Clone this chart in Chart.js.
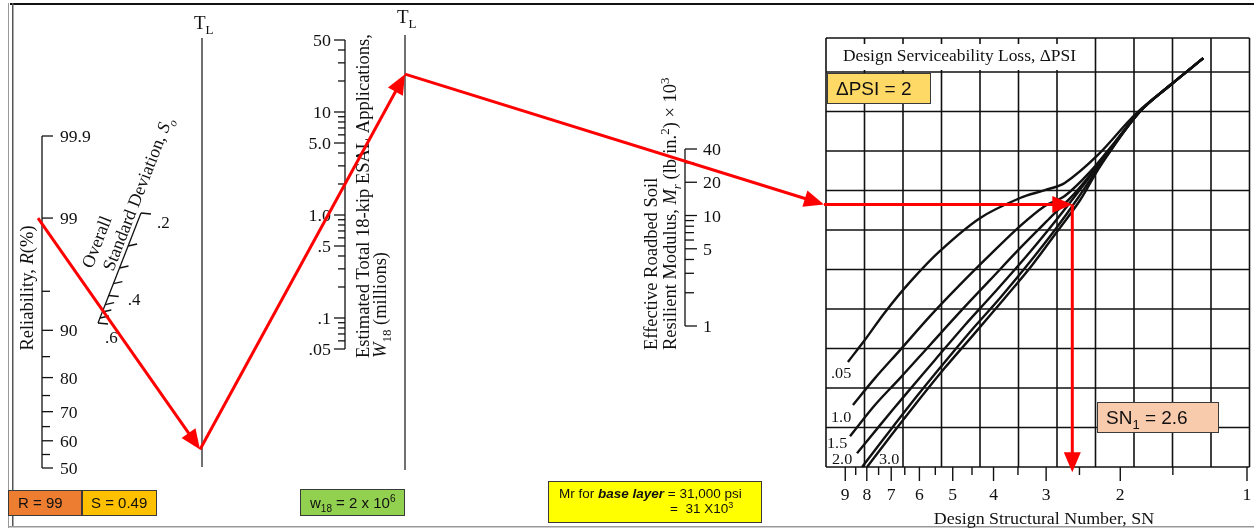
<!DOCTYPE html>
<html><head><meta charset="utf-8">
<script src="https://cdn.jsdelivr.net/npm/chart.js@4.4.1/dist/chart.umd.min.js"></script>
<style>
html,body{margin:0;padding:0;background:#fff;overflow:hidden;}
#wrap{position:relative;width:1254px;height:531px;}
</style></head>
<body><div id="wrap"><canvas id="chart"></canvas></div>
<script>
// ================= DATA =================
const reliabilityTicks = [50, 60, 70, 80, 90, 99, 99.9];
const reliabilityTickLabels = ['50', '60', '70', '80', '90', '99', '99.9'];
const reliabilityMinorTicks = [55, 65, 75, 85, 95];
const stdDevTicks = [0.2, 0.25, 0.3, 0.35, 0.4, 0.45, 0.5, 0.55, 0.6];
const stdDevLabelValues = [0.2, 0.4, 0.6];
const stdDevTickLabels = ['.2', '.4', '.6'];
const esalTicks = [0.05, 0.06, 0.07, 0.08, 0.09, 0.1, 0.2, 0.3, 0.4, 0.5, 0.6, 0.7, 0.8, 0.9,
                   1, 2, 3, 4, 5, 6, 7, 8, 9, 10, 20, 30, 40, 50];
const esalLabelValues = [0.05, 0.1, 0.5, 1, 5, 10, 50];
const esalTickLabels = ['.05', '.1', '.5', '1.0', '5.0', '10', '50'];
const mrTicks = [1, 2, 3, 4, 5, 6, 7, 8, 9, 10, 20, 30, 40];
const mrLabelValues = [1, 5, 10, 20, 40];
const mrTickLabels = ['1', '5', '10', '20', '40'];
const snTicks = [9, 8, 7, 6, 5, 4, 3, 2, 1];
const snTickLabels = ['9', '8', '7', '6', '5', '4', '3', '2', '1'];
const snMinorTicks = [8.5, 7.5, 6.5, 5.5, 4.5, 3.5, 2.5, 1.5];
const psiCurveNames = ['.05', '1.0', '1.5', '2.0', '2.5', '3.0'];
const psiCurveLabels = ['.05', '1.0', '1.5', '2.0', '', '3.0'];
// Serviceability-loss curves: design SN (x) against turning-line grid position (rows)
const psi005SN  = [8.87, 8.08, 7.24, 6.32, 5.36, 4.31, 3.46, 3.02, 2.71, 2.26, 1.83, 1.52, 1.27];
const psi005Row = [2.66, 3.22, 3.92, 4.68, 5.47, 6.30, 6.81, 7.01, 7.19, 7.90, 8.96, 9.67, 10.35];
const psi10SN   = [8.63, 7.65, 6.67, 5.66, 4.81, 4.08, 3.46, 3.02, 2.71, 2.36, 2.06, 1.80, 1.52, 1.27];
const psi10Row  = [1.57, 2.25, 2.96, 3.82, 4.61, 5.37, 6.10, 6.61, 6.86, 7.47, 8.23, 8.99, 9.67, 10.35];
const psi15SN   = [8.77, 7.65, 6.67, 5.66, 4.81, 4.08, 3.46, 2.94, 2.56, 2.23, 1.80, 1.52, 1.27];
const psi15Row  = [0.78, 1.57, 2.25, 3.09, 3.92, 4.73, 5.54, 6.30, 6.94, 7.72, 8.99, 9.67, 10.35];
const psi20SN   = [8.44, 7.44, 6.49, 5.51, 4.68, 3.97, 3.37, 2.94, 2.56, 2.23, 1.80, 1.52, 1.27];
const psi20Row  = [0.35, 1.06, 1.82, 2.71, 3.59, 4.43, 5.29, 6.05, 6.86, 7.70, 8.99, 9.67, 10.35];
const psi25SN   = [8.21, 7.24, 6.32, 5.36, 4.55, 3.86, 3.28, 2.86, 2.52, 2.23, 1.80, 1.52, 1.27];
const psi25Row  = [0.00, 0.76, 1.57, 2.51, 3.42, 4.28, 5.19, 6.00, 6.81, 7.65, 8.99, 9.67, 10.35];
const psi30SN   = [7.99, 7.05, 6.15, 5.22, 4.43, 3.76, 3.24, 2.83, 2.49, 2.23, 1.80, 1.52, 1.27];
const psi30Row  = [0.00, 0.76, 1.57, 2.51, 3.39, 4.28, 5.11, 5.95, 6.76, 7.62, 8.99, 9.67, 10.35];
// design example
const designR = 99, designSo = 0.49, designW18 = 2, designMr = 31, designSN = 2.6, designPSI = 2;

// ================= HELPERS =================
const W = 1254, H = 531;
const SERIF = '"Liberation Serif","DejaVu Serif",serif';
const SANS = '"Liberation Sans",Arial,sans-serif';

function probit(p) {
  const a=[-3.969683028665376e+01,2.209460984245205e+02,-2.759285104469687e+02,1.383577518672690e+02,-3.066479806614716e+01,2.506628277459239e+00];
  const b=[-5.447609879822406e+01,1.615858368580409e+02,-1.556989798598866e+02,6.680131188771972e+01,-1.328068155288572e+01];
  const c=[-7.784894002430293e-03,-3.223964580411365e-01,-2.400758277161838e+00,-2.549732539343734e+00,4.374664141464968e+00,2.938163982698783e+00];
  const d=[7.784695709041462e-03,3.224671290700398e-01,2.445134137142996e+00,3.754408661907416e+00];
  const pl = 0.02425; let q, r;
  if (p < pl) { q = Math.sqrt(-2*Math.log(p)); return (((((c[0]*q+c[1])*q+c[2])*q+c[3])*q+c[4])*q+c[5])/((((d[0]*q+d[1])*q+d[2])*q+d[3])*q+1); }
  if (p <= 1-pl) { q = p-0.5; r = q*q; return (((((a[0]*r+a[1])*r+a[2])*r+a[3])*r+a[4])*r+a[5])*q/(((((b[0]*r+b[1])*r+b[2])*r+b[3])*r+b[4])*r+1); }
  q = Math.sqrt(-2*Math.log(1-p)); return -(((((c[0]*q+c[1])*q+c[2])*q+c[3])*q+c[4])*q+c[5])/((((d[0]*q+d[1])*q+d[2])*q+d[3])*q+1);
}
// scale limits such that value v1 sits at pixel p1 and v2 at p2 (y axes & reversed x axes)
function yFit(v1, p1, v2, p2, size) { const k = (p1-p2)/(v2-v1); return { min: v1-(size-p1)/k, max: v1+p1/k }; }
function xFit(v1, p1, v2, p2, size) { const k = (p2-p1)/(v2-v1); return { min: v1-p1/k, max: v1+(size-p1)/k }; }
function logFit(v1, p1, v2, p2, size) { const r = yFit(Math.log10(v1), p1, Math.log10(v2), p2, size); return { min: 10**r.min, max: 10**r.max }; }

// layout anchors
const LAY = {
  rAxisX: 42, rStartX: 38, tl1X: 202, tl2X: 405, esalX: 345, mrX: 685,
  soTop: [141, 213], soBottom: [98, 323],
  gridLeft: 826, gridRight: 1249.5, gridTop: 38, gridBottom: 467,
  redTL1X: 200, redGridX: 824
};

function rich(ctx, x, y, parts, size, family, align, stretch) {
  stretch = stretch || 1;
  const fonts = parts.map(p => `${p.i ? 'italic ' : ''}${p.b ? 'bold ' : ''}${(p.sub || p.sup) ? Math.round(size*0.68) : size}px ${family}`);
  let total = 0;
  const ws = parts.map((p, k) => { ctx.font = fonts[k]; const w = ctx.measureText(p.t).width; total += w; return w; });
  ctx.save();
  ctx.translate(x, y); ctx.scale(stretch, 1);
  let cx = align === 'center' ? -total/2 : align === 'right' ? -total : 0;
  ctx.textAlign = 'left'; ctx.textBaseline = 'alphabetic';
  parts.forEach((p, k) => {
    ctx.font = fonts[k];
    const dy = p.sub ? size*0.28 : p.sup ? -size*0.38 : 0;
    ctx.fillText(p.t, cx, dy); cx += ws[k];
  });
  ctx.restore();
}
function rotText(ctx, x, y, ang, parts, size, family, align) {
  ctx.save(); ctx.translate(x, y); ctx.rotate(ang); rich(ctx, 0, 0, parts, size, family, align); ctx.restore();
}
function line(ctx, x1, y1, x2, y2) { ctx.beginPath(); ctx.moveTo(x1, y1); ctx.lineTo(x2, y2); ctx.stroke(); }
function arrowHead(ctx, x0, y0, x1, y1, len, hw) {
  const a = Math.atan2(y1-y0, x1-x0), ca = Math.cos(a), sa = Math.sin(a);
  ctx.beginPath(); ctx.moveTo(x1, y1);
  ctx.lineTo(x1-len*ca+hw*sa, y1-len*sa-hw*ca);
  ctx.lineTo(x1-len*ca-hw*sa, y1-len*sa+hw*ca);
  ctx.closePath(); ctx.fill();
}
function box(ctx, x1, y1, x2, y2, fill) {
  ctx.fillStyle = fill; ctx.fillRect(x1, y1, x2-x1, y2-y1);
  ctx.strokeStyle = '#3a3a3a'; ctx.lineWidth = 1; ctx.strokeRect(x1+0.5, y1+0.5, x2-x1-1, y2-y1-1);
}

// ================= DRAWING PLUGIN =================
const nomograph = {
  id: 'nomograph',
  beforeDatasetsDraw(chart) {
    const ctx = chart.ctx, s = chart.scales;
    ctx.save();
    // frame
    ctx.fillStyle = '#111'; ctx.fillRect(10, 3, W-10, 2);
    ctx.fillStyle = '#555'; ctx.fillRect(12, 3, 1.5, 524);
    ctx.fillStyle = '#999'; ctx.fillRect(8, 3, 1, 525); ctx.fillRect(8, 526, W-8, 1.5);

    ctx.strokeStyle = '#111'; ctx.fillStyle = '#111'; ctx.lineWidth = 1.3;
    // ---- Reliability axis ----
    const yR = v => s.zR.getPixelForValue(probit(v/100));
    const rx = LAY.rAxisX;
    line(ctx, rx, yR(reliabilityTicks[reliabilityTicks.length-1]), rx, yR(reliabilityTicks[0]));
    reliabilityTicks.forEach((v, i) => {
      line(ctx, rx, yR(v), rx+11, yR(v));
      rich(ctx, 60, yR(v)+6, [{t: reliabilityTickLabels[i]}], 16, SERIF, 'left', 1.1);
    });
    reliabilityMinorTicks.forEach(v => line(ctx, rx, yR(v), rx+8, yR(v)));
    rotText(ctx, 33, 288, -Math.PI/2, [{t: 'Reliability, '}, {t: 'R', i: true}, {t: '(%)'}], 18.5, SERIF, 'center');

    // ---- Overall standard deviation (So) axis ----
    const [tx, ty] = LAY.soTop, [bx, by] = LAY.soBottom;
    const soF = v => (1/stdDevTicks[0] - 1/v) / (1/stdDevTicks[0] - 1/stdDevTicks[stdDevTicks.length-1]);
    const soP = v => [tx + (bx-tx)*soF(v), ty + (by-ty)*soF(v)];
    line(ctx, tx, ty, bx, by);
    stdDevTicks.forEach(v => { const [px, py] = soP(v); const major = stdDevLabelValues.includes(v); line(ctx, px, py, px + (major ? 10 : 9), py + (major ? 1 : -2)); });
    const soLabOff = [[16, 15], [19, 9], [7, 20]];
    stdDevLabelValues.forEach((v, i) => { const [px, py] = soP(v); rich(ctx, px + soLabOff[i][0], py + soLabOff[i][1], [{t: stdDevTickLabels[i]}], 17, SERIF, 'left'); });
    const soAng = Math.atan2(ty-by, tx-bx);
    rotText(ctx, 102, 244, soAng, [{t: 'Overall'}], 18, SERIF, 'center');
    rotText(ctx, 143, 196, soAng, [{t: 'Standard Deviation, '}, {t: 'S', i: true}, {t: 'o', i: true, sub: true}], 18, SERIF, 'center');

    // ---- Turning lines ----
    ctx.lineWidth = 1.2;
    line(ctx, LAY.tl1X, 38, LAY.tl1X, 467);
    line(ctx, LAY.tl2X, 35, LAY.tl2X, 470);
    rich(ctx, LAY.tl1X-8, 29, [{t: 'T'}, {t: 'L', sub: true}], 19, SERIF, 'left');
    rich(ctx, LAY.tl2X-8, 23, [{t: 'T'}, {t: 'L', sub: true}], 19, SERIF, 'left');

    // ---- ESAL axis ----
    ctx.lineWidth = 1.3;
    const yW = v => s.esal.getPixelForValue(v);
    const ex = LAY.esalX;
    line(ctx, ex, yW(esalTicks[esalTicks.length-1]), ex, yW(esalTicks[0]));
    esalTicks.forEach(v => { const major = esalLabelValues.includes(v); line(ctx, ex, yW(v), ex - (major ? 11 : 7), yW(v)); });
    esalLabelValues.forEach((v, i) => rich(ctx, 331, yW(v)+6, [{t: esalTickLabels[i]}], 16, SERIF, 'right', 1.12));
    rotText(ctx, 369, 358, -Math.PI/2, [{t: 'Estimated Total 18-kip ESAL Applications,'}], 18.5, SERIF, 'left');
    rotText(ctx, 386, 358, -Math.PI/2, [{t: 'W', i: true}, {t: '18', sub: true}, {t: ' (millions)'}], 18.5, SERIF, 'left');

    // ---- Resilient modulus axis ----
    const yM = v => s.mr.getPixelForValue(v);
    const mx = LAY.mrX;
    line(ctx, mx, yM(mrTicks[mrTicks.length-1]), mx, yM(mrTicks[0]));
    mrTicks.forEach(v => { const major = mrLabelValues.includes(v); line(ctx, mx, yM(v), mx + (major ? 12 : 9), yM(v)); });
    mrLabelValues.forEach((v, i) => rich(ctx, 703, yM(v)+6, [{t: mrTickLabels[i]}], 16, SERIF, 'left', 1.12));
    rotText(ctx, 657, 350, -Math.PI/2, [{t: 'Effective Roadbed Soil'}], 18.5, SERIF, 'left');
    rotText(ctx, 676, 350, -Math.PI/2, [{t: 'Resilient Modulus, '}, {t: 'M', i: true}, {t: 'r', i: true, sub: true}, {t: ' (lb/in.'}, {t: '2', sup: true}, {t: ') \u00d7 10'}, {t: '3', sup: true}], 18.5, SERIF, 'left');

    // ---- Design chart grid ----
    ctx.strokeStyle = '#111'; ctx.lineWidth = 1.6;
    for (let c = 0; c <= 11; c++) { const x = s.col.getPixelForValue(c); line(ctx, x, LAY.gridTop, x, LAY.gridBottom); }
    for (let r = 0; r <= 10; r++) { const y = s.row.getPixelForValue(r); line(ctx, LAY.gridLeft, y, LAY.gridRight, y); }
    line(ctx, LAY.gridLeft, LAY.gridTop, LAY.gridRight, LAY.gridTop);
    ctx.fillStyle = '#fff'; ctx.fillRect(836, 44, 247, 26);
    ctx.fillStyle = '#111';
    rich(ctx, 843, 61, [{t: 'Design Serviceability Loss, \u0394PSI'}], 16, SERIF, 'left', 1.09);
    // SN axis ticks
    ctx.lineWidth = 1.4;
    const gb = LAY.gridBottom;
    snTicks.forEach((v, i) => { const x = s.sn.getPixelForValue(v); line(ctx, x, gb, x, gb+14); rich(ctx, x, 500, [{t: snTickLabels[i]}], 16, SERIF, 'center', 1.1); });
    snMinorTicks.forEach(v => { const x = s.sn.getPixelForValue(v); line(ctx, x, gb, x, gb+8); });
    rich(ctx, 1044, 524, [{t: 'Design Structural Number, SN'}], 16, SERIF, 'center', 1.12);
    // curve labels
    const labPos = [[831, 378], [831, 422], [827, 448], [832, 464], null, [879, 464]];
    psiCurveLabels.forEach((t, i) => { if (t && labPos[i]) rich(ctx, labPos[i][0], labPos[i][1], [{t}], 15, SERIF, 'left', 1.08); });
    ctx.restore();
  },
  afterDatasetsDraw(chart) {
    const ctx = chart.ctx, s = chart.scales;
    ctx.save();
    // ---- solution path ----
    const p0 = [LAY.rStartX, s.zR.getPixelForValue(probit(designR/100))];
    const [tx, ty] = LAY.soTop, [bx, by] = LAY.soBottom;
    const f = (1/stdDevTicks[0] - 1/designSo) / (1/stdDevTicks[0] - 1/stdDevTicks[stdDevTicks.length-1]);
    const sp = [tx + (bx-tx)*f, ty + (by-ty)*f];
    const p1 = [LAY.redTL1X, p0[1] + (sp[1]-p0[1])*(LAY.redTL1X-p0[0])/(sp[0]-p0[0])];
    const wp = [LAY.esalX, s.esal.getPixelForValue(designW18)];
    const p2 = [LAY.tl2X, p1[1] + (wp[1]-p1[1])*(LAY.tl2X-p1[0])/(wp[0]-p1[0])];
    const mp = [LAY.mrX, s.mr.getPixelForValue(designMr)];
    const p3 = [LAY.redGridX, p2[1] + (mp[1]-p2[1])*(LAY.redGridX-p2[0])/(mp[0]-p2[0])];
    const p4 = [s.sn.getPixelForValue(designSN), p3[1]];
    const p5 = [p4[0], s.row.getPixelForValue(-0.13)];
    const segs = [[p0, p1], [p1, p2], [p2, p3], [p3, p4], [p4, p5]];
    ctx.strokeStyle = '#ff0000'; ctx.fillStyle = '#ff0000'; ctx.lineWidth = 3; ctx.lineCap = 'butt';
    segs.forEach(([a, b]) => {
      const L = Math.hypot(b[0]-a[0], b[1]-a[1]), k = (L-14)/L;
      line(ctx, a[0], a[1], a[0] + (b[0]-a[0])*k, a[1] + (b[1]-a[1])*k);
      arrowHead(ctx, a[0], a[1], b[0], b[1], 20, 8.5);
    });
    // ---- annotation boxes ----
    box(ctx, 8, 490, 82, 516, '#ED7D31');
    box(ctx, 82, 490, 157, 516, '#FFC000');
    box(ctx, 300, 489, 405, 516, '#92D050');
    box(ctx, 548, 481, 762, 523, '#FFFF00');
    box(ctx, 827, 73, 931, 104, '#FFD966');
    box(ctx, 1097, 402, 1219, 433, '#F8CBAD');
    ctx.fillStyle = '#111';
    rich(ctx, 18, 508, [{t: 'R = ' + designR}], 15, SANS, 'left');
    rich(ctx, 91, 508, [{t: 'S = ' + designSo}], 15, SANS, 'left');
    rich(ctx, 310, 508, [{t: 'w'}, {t: '18', sub: true}, {t: ' = ' + designW18 + ' x 10'}, {t: '6', sup: true}], 15, SANS, 'left');
    rich(ctx, 559, 498, [{t: 'Mr for '}, {t: 'base layer', b: true, i: true}, {t: ' = ' + (designMr*1000).toLocaleString('en-US') + ' psi'}], 13.5, SANS, 'left');
    rich(ctx, 670, 513, [{t: '=  ' + designMr + ' X10'}, {t: '3', sup: true}], 13.5, SANS, 'left');
    rich(ctx, 836, 95, [{t: '\u0394PSI = ' + designPSI}], 19, SANS, 'left');
    rich(ctx, 1106, 424, [{t: 'SN'}, {t: '1', sub: true}, {t: ' = ' + designSN}], 19, SANS, 'left');
    ctx.restore();
  }
};

// ================= CHART =================
const psiSeries = [
  [psi005SN, psi005Row], [psi10SN, psi10Row], [psi15SN, psi15Row],
  [psi20SN, psi20Row], [psi25SN, psi25Row], [psi30SN, psi30Row]
];
new Chart(document.getElementById('chart'), {
  type: 'scatter',
  data: {
    datasets: psiSeries.map(([sn, row], i) => ({
      label: '\u0394PSI ' + psiCurveNames[i],
      data: sn.map((v, k) => ({ x: v, y: row[k] })),
      xAxisID: 'sn', yAxisID: 'row',
      showLine: true, borderColor: '#111', borderWidth: 2.4,
      pointRadius: 0, tension: 0.35, fill: false
    }))
  },
  options: {
    responsive: true, maintainAspectRatio: false, animation: false, devicePixelRatio: 1, events: [],
    layout: { padding: 0 },
    plugins: { legend: { display: false }, tooltip: { enabled: false }, title: { display: false } },
    scales: {
      x: { type: 'linear', axis: 'x', position: 'bottom', display: false, min: 0, max: W, bounds: 'data' },
      y: { type: 'linear', axis: 'y', position: 'left', display: false, min: 0, max: H, reverse: true, bounds: 'data' },
      zR: { type: 'linear', axis: 'y', position: 'left', display: false, bounds: 'data', ...yFit(probit(reliabilityTicks[0]/100), 468, probit(reliabilityTicks[reliabilityTicks.length-1]/100), 136, H) },
      esal: { type: 'logarithmic', axis: 'y', position: 'left', display: false, bounds: 'data', ...logFit(0.05, 349, 50, 40, H) },
      mr: { type: 'logarithmic', axis: 'y', position: 'left', display: false, bounds: 'data', ...logFit(1, 326, 40, 149, H) },
      row: { type: 'linear', axis: 'y', position: 'left', display: false, bounds: 'data', ...yFit(0, 467, 10, 72, H) },
      sn: { type: 'logarithmic', axis: 'x', position: 'bottom', display: false, reverse: true, bounds: 'data', ...logFit(1, 1247, 10, 826, W) },
      col: { type: 'linear', axis: 'x', position: 'bottom', display: false, bounds: 'data', ...xFit(0, 826, 11, 1249.5, W) }
    }
  },
  plugins: [nomograph]
});
</script>
</body></html>
